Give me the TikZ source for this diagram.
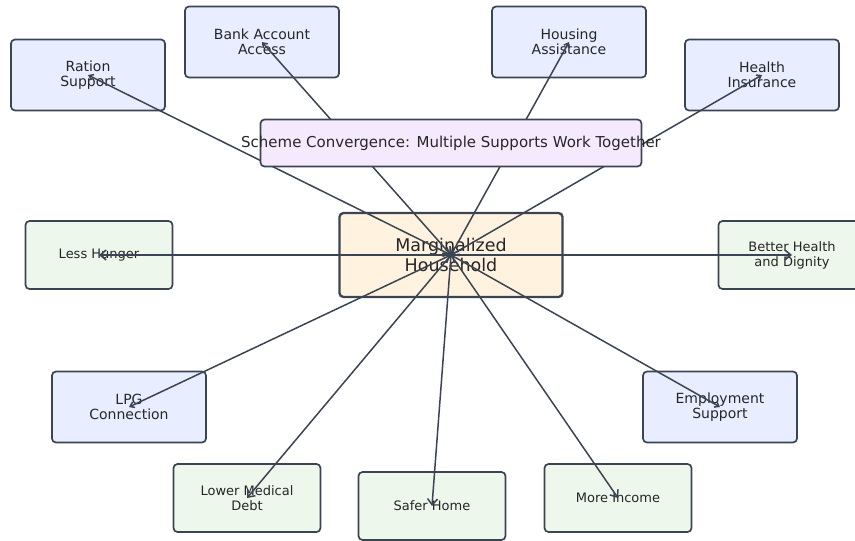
\documentclass[tikz,border=0pt]{standalone}
\usepackage{fontspec}
\setmainfont{DejaVu Sans}
\usetikzlibrary{arrows.meta}
\usetikzlibrary{positioning}

\definecolor{edgegrey}{HTML}{3B4452}
\definecolor{supportblue}{HTML}{E8EEFF}
\definecolor{outcomegreen}{HTML}{EDF7EC}
\definecolor{hubcream}{HTML}{FFF3E0}
\definecolor{schemelilac}{HTML}{F5EAFD}

\begin{document}
\begin{tikzpicture}[x=1pt, y=-1pt,
    box/.style={draw=edgegrey, line width=1.7pt, rounded corners=4pt, align=center, text=black!85},
    support/.style={box, fill=supportblue, minimum width=154pt, minimum height=71pt, font=\fontsize{14}{15.5}\selectfont},
    outcome/.style={box, fill=outcomegreen, minimum width=147pt, minimum height=68pt, font=\fontsize{13}{15}\selectfont},
    link/.style={draw=edgegrey, line width=1.5pt, -{Straight Barb[length=6pt, width=10pt]}},
    twolink/.style={link, {Straight Barb[length=4pt, width=6pt]}-{Straight Barb[length=6pt, width=10pt]}}]

    \useasboundingbox (0,0) rectangle (855,541);

    % supports
    \node[support] (ration) at (88,75) {Ration\\Support};
    \node[support] (bank) at (262,42) {Bank Account\\Access};
    \node[support] (housing) at (569,42) {Housing\\Assistance};
    \node[support] (health) at (762,75) {Health\\Insurance};
    \node[support] (lpg) at (129,407) {LPG\\Connection};
    \node[support] (employ) at (720,407) {Employment\\Support};
    % household
    \node[box, fill=hubcream, line width=2.3pt, minimum width=223pt, minimum height=84pt, font=\fontsize{17.5}{20}\selectfont] (house) at (451,255) {Marginalized\\Household};
    % outcomes
    \node[outcome] (hunger) at (99,255) {Less Hunger};
    \node[outcome] (dignity) at (792,255) {Better Health\\and Dignity};
    \node[outcome] (debt) at (247,498) {Lower Medical\\Debt};
    \node[outcome] (home) at (432,506) {Safer Home};
    \node[outcome] (income) at (618,498) {More Income};

    % supports into household
    \foreach \s in {ration, bank, housing, health, lpg, employ}
        \draw[twolink] (\s.center) -- (house.center);
    % household to outcomes
    \foreach \o in {hunger, dignity, debt, home, income}
        \draw[link] (house.center) -- (\o.center);

    % scheme convergence banner
    \node[box, fill=schemelilac, minimum width=381pt, minimum height=47pt, inner xsep=0pt, font=\fontsize{15}{17}\selectfont] (scheme) at (451,143) {\makebox[0pt]{Scheme Convergence: Multiple Supports Work Together}};

\end{tikzpicture}
\end{document}
